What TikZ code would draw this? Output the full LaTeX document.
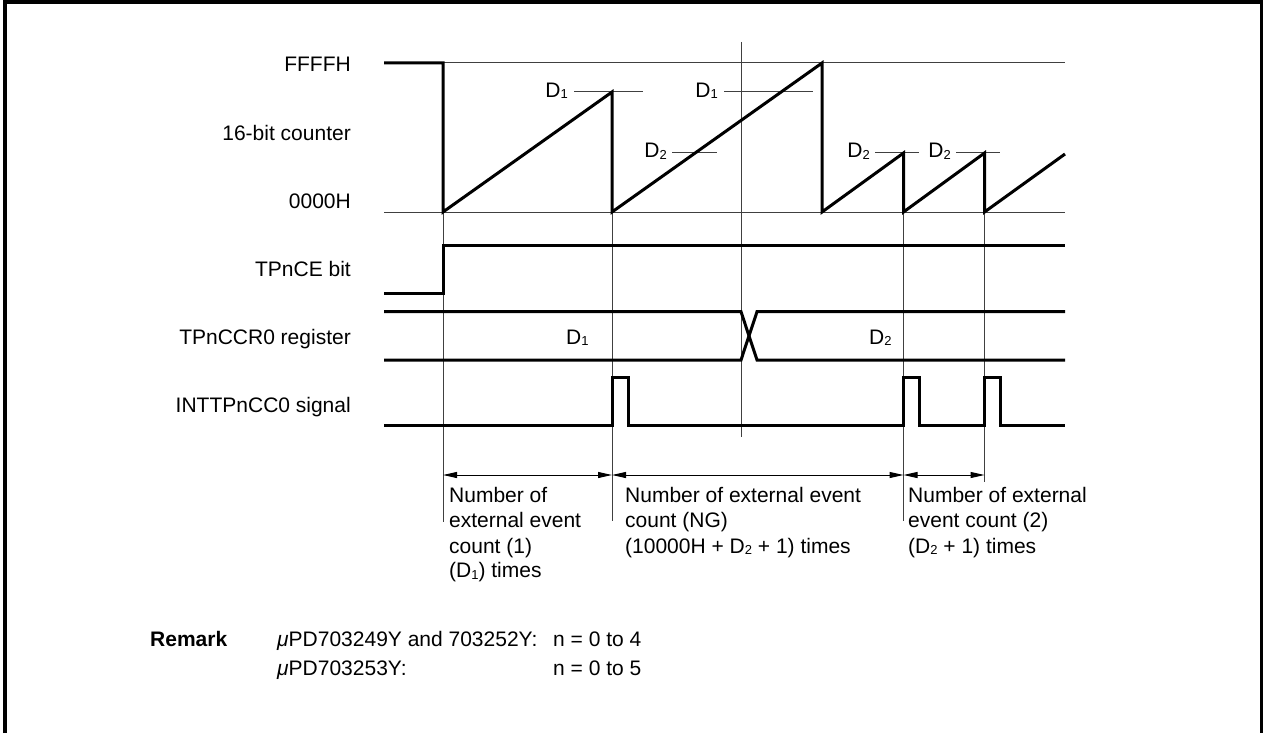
\documentclass[tikz,border=0pt]{standalone}
\usepackage{fontspec}
\setmainfont{Liberation Sans}
\usetikzlibrary{arrows.meta}
\newcommand\sbs[1]{\raisebox{-1.5pt}{\fontsize{13}{13}\selectfont #1}}
\begin{document}
\begin{tikzpicture}[x=1pt,y=-1pt,
  wave/.style={line width=3pt, line join=miter},
  thinline/.style={line width=1pt, black!75},
  txt/.style={inner sep=0pt, font=\fontsize{21}{25}\selectfont},
  dimarrow/.style={line width=1pt, black, {Triangle[length=14pt,width=6pt]}-{Triangle[length=14pt,width=6pt]}}]
\useasboundingbox (0,0) rectangle (1265,733);
% frame
\draw[line width=3.5pt] (5,733) -- (5,2) -- (1261.5,2) -- (1261.5,733);
% marker coordinates
\coordinate (a0) at (443,212);   \coordinate (a1) at (443,521.5);
\coordinate (b0) at (612,212);   \coordinate (b1) at (612,521);
\coordinate (c0) at (741,42);    \coordinate (c1) at (741,437);
\coordinate (d0) at (903.5,212); \coordinate (d1) at (903.5,521);
\coordinate (e0) at (984.5,212); \coordinate (e1) at (984.5,482);
% thin reference lines
\draw[thinline] (443,63) -- (1065,63);
\draw[thinline] (384,212) -- (1065,212);
\draw[thinline] (a0) -- (a1);
\draw[thinline] (b0) -- (b1);
\draw[thinline] (c0) -- (c1);
\draw[thinline] (d0) -- (d1);
\draw[thinline] (e0) -- (e1);
% level ticks
\draw[thinline] (574,92) -- (643,92);
\draw[thinline] (724,92) -- (813,92);
\draw[thinline] (672,152) -- (717,152);
\draw[thinline] (875,152) -- (919,152);
\draw[thinline] (956,152) -- (1000,152);
% 16-bit counter
\draw[wave] (384,63) -- (443,63) -- (443,212) -- (612,92) -- (612,212) -- (822,63) -- (822,212)
  -- (903.5,153) -- (903.5,212) -- (984.5,153) -- (984.5,212) -- (1065,154);
% TPnCE bit
\draw[wave] (384,293.3) -- (443,293.3) -- (443,245.7) -- (1065,245.7);
% TPnCCR0 register
\draw[wave] (384,311.7) -- (741,311.7) -- (757,360) -- (1065,360);
\draw[wave] (384,360) -- (741,360) -- (757,311.7) -- (1065,311.7);
% INTTPnCC0 signal
\draw[wave] (384,425) -- (612,425) -- (612,377.3) -- (628,377.3) -- (628,425) -- (903.5,425)
  -- (903.5,377.3) -- (919.5,377.3) -- (919.5,425) -- (984.5,425) -- (984.5,377.3)
  -- (1000.5,377.3) -- (1000.5,425) -- (1065,425);
% dimension arrows
\coordinate (p1) at (443,475);
\coordinate (p2) at (612,475);
\coordinate (p3) at (903.5,475);
\coordinate (p4) at (984.5,475);
\draw[dimarrow] (p1) -- (p2);
\draw[dimarrow] (p2) -- (p3);
\draw[dimarrow] (p3) -- (p4);
% signal labels
\node[txt, anchor=base east] (lf) at (351,71.7) {FFFFH};
\node[txt, anchor=base east] (lc) at (351,140.3) {16-bit counter};
\node[txt, anchor=base east] (lz) at (351,208.3) {0000H};
\node[txt, anchor=base east] (le) at (351,276.7) {TPnCE bit};
\node[txt, anchor=base east] (lr) at (351,344) {TPnCCR0 register};
\node[txt, anchor=base east] (li) at (351,412.3) {INTTPnCC0 signal};
% level labels
\node[txt, anchor=base east] (d1a) at (568,97.5) {D\sbs{1}};
\node[txt, anchor=base east] (d1b) at (718,97.5) {D\sbs{1}};
\node[txt, anchor=base east] (d2a) at (667,157.5) {D\sbs{2}};
\node[txt, anchor=base east] (d2b) at (870,157.5) {D\sbs{2}};
\node[txt, anchor=base east] (d2c) at (951,157.5) {D\sbs{2}};
\node[txt, anchor=base west] (rd1) at (566,344) {D\sbs{1}};
\node[txt, anchor=base west] (rd2) at (869,344) {D\sbs{2}};
% period texts
\node[txt, anchor=base west] (n1a) at (449,502.7) {Number of};
\node[txt, anchor=base west] (n1b) at (449,527.3) {external event};
\node[txt, anchor=base west] (n1c) at (449,553.3) {count (1)};
\node[txt, anchor=base west] (n1d) at (449,577.7) {(D\sbs{1}) times};
\node[txt, anchor=base west] (n2a) at (625,502.7) {Number of external event};
\node[txt, anchor=base west] (n2b) at (625,527.3) {count (NG)};
\node[txt, anchor=base west] (n2c) at (625,553.3) {(10000H + D\sbs{2} + 1) times};
\node[txt, anchor=base west] (n3a) at (908,502.7) {Number of external};
\node[txt, anchor=base west] (n3b) at (908,527.3) {event count (2)};
\node[txt, anchor=base west] (n3c) at (908,553.3) {(D\sbs{2} + 1) times};
% remark
\node[txt, anchor=base west, font=\fontsize{21}{25}\selectfont\bfseries] (rm) at (150,646) {Remark};
\node[txt, anchor=base west] (r1) at (277,646) {{\itshape μ}PD703249Y and 703252Y:};
\node[txt, anchor=base west] (r1n) at (553,646) {n = 0 to 4};
\node[txt, anchor=base west] (r2) at (277,675) {{\itshape μ}PD703253Y:};
\node[txt, anchor=base west] (r2n) at (553,675) {n = 0 to 5};
\end{tikzpicture}
\end{document}
